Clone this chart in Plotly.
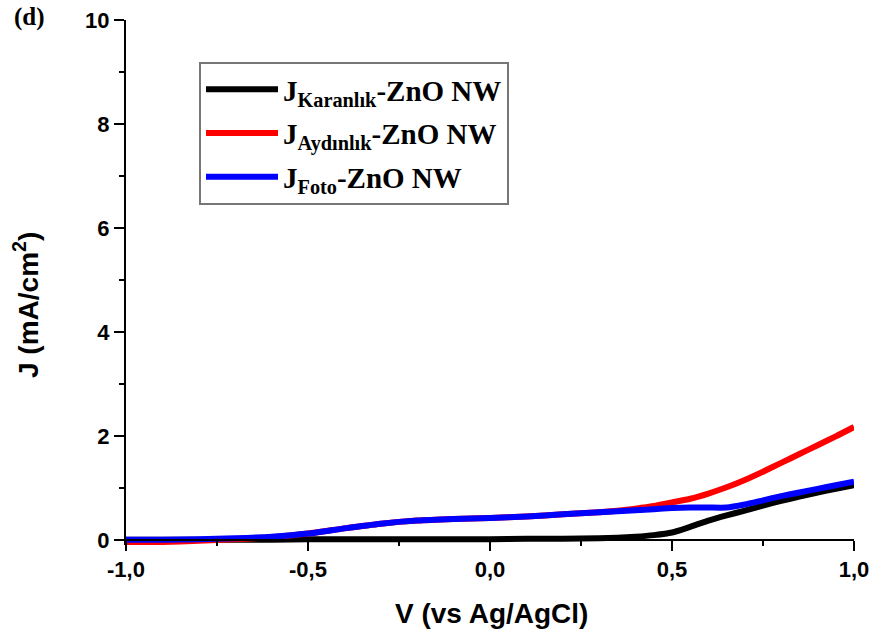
import plotly.graph_objects as go

# Potential (V vs Ag/AgCl)
voltage = [-1.0, -0.9, -0.8, -0.7, -0.6, -0.5, -0.4, -0.3, -0.2, -0.1, 0.0,
           0.1, 0.2, 0.3, 0.35, 0.4, 0.45, 0.5, 0.55, 0.6, 0.65, 0.7, 0.75,
           0.8, 0.85, 0.9, 0.95, 1.0]

# Current density (mA/cm^2)
j_dark = [0.0, 0.0, 0.0, 0.0, 0.0, 0.01, 0.01, 0.01, 0.01, 0.01, 0.01,
          0.02, 0.02, 0.03, 0.04, 0.06, 0.09, 0.14, 0.25, 0.37, 0.47, 0.56, 0.66,
          0.75, 0.83, 0.91, 0.98, 1.05]
j_light = [-0.06, -0.04, -0.02, 0.01, 0.05, 0.12, 0.22, 0.31, 0.37, 0.40, 0.42,
           0.45, 0.49, 0.53, 0.56, 0.60, 0.65, 0.72, 0.79, 0.89, 1.01, 1.15, 1.31,
           1.48, 1.65, 1.82, 1.99, 2.17]
j_photo = [0.0, 0.0, 0.01, 0.03, 0.06, 0.12, 0.22, 0.31, 0.37, 0.40, 0.42,
           0.45, 0.49, 0.53, 0.55, 0.57, 0.59, 0.61, 0.62, 0.62, 0.62, 0.68, 0.76,
           0.84, 0.91, 0.98, 1.05, 1.12]

series_names = ["<b>J<sub>Karanlık</sub>-ZnO NW</b>",
                "<b>J<sub>Aydınlık</sub>-ZnO NW</b>",
                "<b>J<sub>Foto</sub>-ZnO NW</b>"]
series_colors = ["#000000", "#ff0000", "#0000ff"]

x_tick_vals = [-1.0, -0.5, 0.0, 0.5, 1.0]
x_tick_text = ["-1,0", "-0,5", "0,0", "0,5", "1,0"]
x_minor_vals = [-0.75, -0.25, 0.25, 0.75]
y_tick_vals = [0, 2, 4, 6, 8, 10]
y_tick_text = ["0", "2", "4", "6", "8", "10"]
y_minor_vals = [1, 3, 5, 7, 9]

W, H = 875, 639
L, R, T, B = 126, 21, 20, 94
plot_w = W - L - R
plot_h = H - T - B
y_min, y_max = -0.1, 10.0


def px_x(p):
    return (p - L) / plot_w


def px_y(p):
    return (H - B - p) / plot_h


fig = go.Figure()
for i, (name, ys, col) in enumerate(zip(series_names, [j_dark, j_light, j_photo],
                                         series_colors)):
    fig.add_trace(go.Scatter(x=voltage, y=ys, mode="lines", name=name,
                             legendgroup=f"g{i}",
                             line=dict(color=col, width=6, shape="spline",
                                       smoothing=0.6)))

axis_font = dict(family="Liberation Sans", size=22, color="black", weight="bold")

fig.update_layout(
    width=W, height=H,
    margin=dict(l=L, r=R, t=T, b=B, autoexpand=False),
    paper_bgcolor="white", plot_bgcolor="white",
    showlegend=True,
    legend=dict(x=px_x(199), y=px_y(62), xanchor="left", yanchor="top",
                bordercolor="#777777", borderwidth=2, bgcolor="white",
                font=dict(family="Liberation Serif", size=29, color="black"),
                itemwidth=72, tracegroupgap=3),
    xaxis=dict(range=[-1.0, 1.0], anchor="free", position=(0 - y_min) / (y_max - y_min),
               showline=True, linecolor="black", linewidth=2,
               showgrid=False, zeroline=False,
               ticks="outside", ticklen=10, tickwidth=2, tickcolor="black",
               tickvals=x_tick_vals, ticktext=x_tick_text, tickfont=axis_font,
               minor=dict(tickvals=x_minor_vals, ticks="outside", ticklen=5,
                          tickwidth=2, tickcolor="black"),
               automargin=False),
    yaxis=dict(range=[y_min, y_max],
               showline=True, linecolor="black", linewidth=2,
               showgrid=False, zeroline=False,
               ticks="outside", ticklen=10, tickwidth=2, tickcolor="black",
               tickvals=y_tick_vals, ticktext=y_tick_text, tickfont=axis_font,
               minor=dict(tickvals=y_minor_vals, ticks="outside", ticklen=5,
                          tickwidth=2, tickcolor="black"),
               automargin=False),
    annotations=[
        dict(text="<b>V (vs Ag/AgCl)</b>", x=px_x(491), y=px_y(613),
             xref="paper", yref="paper", showarrow=False,
             xanchor="center", yanchor="middle",
             font=dict(family="Liberation Sans", size=28, color="black")),
        dict(text="<b>J (mA/cm<sup>2</sup>)</b>", x=px_x(26), y=px_y(305),
             xref="paper", yref="paper", showarrow=False, textangle=-90,
             xanchor="center", yanchor="middle",
             font=dict(family="Liberation Sans", size=28, color="black")),
        dict(text="<b>(d)</b>", x=px_x(29), y=px_y(17),
             xref="paper", yref="paper", showarrow=False,
             xanchor="center", yanchor="middle",
             font=dict(family="Liberation Serif", size=25, color="black")),
    ],
)

fig.write_html("out.html")
